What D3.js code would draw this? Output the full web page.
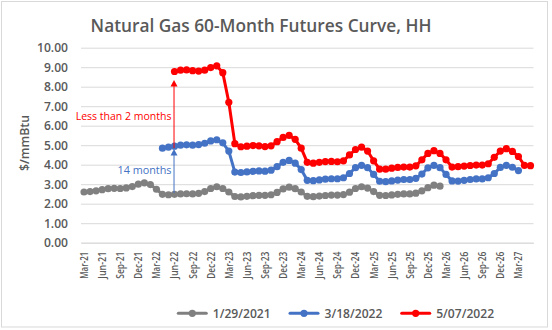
<!DOCTYPE html>
<html><head><meta charset="utf-8">
<script src="https://cdn.jsdelivr.net/npm/d3@7"></script>
<style>body{margin:0;background:#fff}</style>
</head><body>
<svg id="c" width="552" height="330"></svg>
<script>
// ---------- DATA ----------
const categories = [
 "Mar-21","Apr-21","May-21","Jun-21","Jul-21","Aug-21","Sep-21","Oct-21","Nov-21","Dec-21","Jan-22","Feb-22",
 "Mar-22","Apr-22","May-22","Jun-22","Jul-22","Aug-22","Sep-22","Oct-22","Nov-22","Dec-22","Jan-23","Feb-23",
 "Mar-23","Apr-23","May-23","Jun-23","Jul-23","Aug-23","Sep-23","Oct-23","Nov-23","Dec-23","Jan-24","Feb-24",
 "Mar-24","Apr-24","May-24","Jun-24","Jul-24","Aug-24","Sep-24","Oct-24","Nov-24","Dec-24","Jan-25","Feb-25",
 "Mar-25","Apr-25","May-25","Jun-25","Jul-25","Aug-25","Sep-25","Oct-25","Nov-25","Dec-25","Jan-26","Feb-26",
 "Mar-26","Apr-26","May-26","Jun-26","Jul-26","Aug-26","Sep-26","Oct-26","Nov-26","Dec-26","Jan-27","Feb-27",
 "Mar-27","Apr-27","May-27"
];
const tickLabels = ["Mar-21","Jun-21","Sep-21","Dec-21","Mar-22","Jun-22","Sep-22","Dec-22","Mar-23","Jun-23",
 "Sep-23","Dec-23","Mar-24","Jun-24","Sep-24","Dec-24","Mar-25","Jun-25","Sep-25","Dec-25","Mar-26","Jun-26",
 "Sep-26","Dec-26","Mar-27"];
const yTicks = [0,1,2,3,4,5,6,7,8,9,10];

const seriesNames = ["1/29/2021","3/18/2022","5/07/2022"];
const seriesStarts = ["Mar-21","Apr-22","Jun-22"];
const seriesColors = ["#808080","#4472c4","#ff0000"];

const values2021 = [
 2.60,2.62,2.66,2.72,2.77,2.79,2.78,2.81,2.88,3.00,3.07,2.98,
 2.74,2.48,2.46,2.48,2.50,2.51,2.50,2.53,2.62,2.78,2.87,2.78,
 2.60,2.37,2.35,2.38,2.41,2.43,2.43,2.46,2.58,2.76,2.85,2.77,
 2.60,2.38,2.36,2.39,2.42,2.44,2.44,2.47,2.59,2.78,2.87,2.80,
 2.62,2.43,2.42,2.45,2.48,2.50,2.50,2.54,2.66,2.82,2.95,2.90
];
const values2022a = [
 4.85,4.90,4.95,5.00,5.02,5.00,5.03,5.10,5.22,5.28,5.12,4.70,
 3.62,3.60,3.63,3.66,3.68,3.67,3.72,3.90,4.12,4.22,4.08,3.75,
 3.20,3.18,3.22,3.26,3.28,3.28,3.33,3.55,3.85,3.97,3.85,3.50,
 3.15,3.13,3.17,3.21,3.24,3.24,3.30,3.52,3.84,3.97,3.85,3.50,
 3.17,3.16,3.20,3.24,3.27,3.27,3.33,3.55,3.86,3.97,3.87,3.70
];
const values2022b = [
 8.78,8.85,8.86,8.82,8.80,8.85,8.98,9.07,8.72,7.20,
 5.08,4.92,4.95,4.98,4.97,4.93,4.97,5.18,5.40,5.50,5.30,4.85,
 4.12,4.08,4.12,4.16,4.17,4.15,4.20,4.50,4.78,4.90,4.70,4.20,
 3.77,3.77,3.82,3.86,3.88,3.88,3.94,4.25,4.58,4.72,4.58,4.25,
 3.88,3.90,3.93,3.96,3.98,3.98,4.05,4.38,4.70,4.82,4.68,4.42,
 3.97,3.95
];
const seriesValues = [values2021, values2022a, values2022b];

const titleText = "Natural Gas 60-Month Futures Curve, HH";
const yTitle = "$/mmBtu";
const annRed = {text:"Less than 2 months", at:"Jun-22", from:4.85, to:8.35};
const annBlue = {text:"14 months", at:"Jun-22", from:2.55, to:4.80};

// ---------- DRAW ----------
const svg = d3.select("#c");
const FONT = "'Open Sans', Lato, sans-serif";
const txt = "#595959";

function fitSize(str, target, weight){
  const t = svg.append("text").attr("font-family",FONT).attr("font-size",100)
    .attr("font-weight",weight||400).text(str);
  const w = t.node().getComputedTextLength(); t.remove();
  return 100*target/w;
}

svg.append("rect").attr("x",0).attr("y",0).attr("width",552).attr("height",330).attr("fill","#fff");
svg.append("rect").attr("x",1.5).attr("y",1.5).attr("width",546).attr("height",325.5)
  .attr("fill","none").attr("stroke","#d9d9d9");

const L=81, R=533.5, T=47.7, B=242.7;
const x = d3.scaleBand().domain(categories).range([L,R]).padding(0);
const y = d3.scaleLinear().domain([0,10]).range([B,T]);
const cx = c => x(c)+x.bandwidth()/2;

// title
svg.append("text").attr("x",261).attr("y",32).attr("text-anchor","middle")
  .attr("font-family",FONT).attr("font-weight",600).attr("font-size",fitSize(titleText,341,600))
  .attr("fill",txt).text(titleText);

// gridlines + y axis
const yAxis = d3.axisLeft(y).tickValues(yTicks).tickFormat(d3.format(".2f")).tickSize(-(R-L)).tickPadding(13);
const gy = svg.append("g").attr("transform",`translate(${L},0)`).call(yAxis);
gy.select(".domain").remove();
gy.selectAll(".tick line").attr("stroke","#d9d9d9").attr("stroke-width",1);
const ySize = fitSize("10.00",31,600);
gy.selectAll(".tick text").attr("font-family",FONT).attr("font-weight",600).attr("font-size",ySize).attr("fill",txt);

// x axis
const xAxis = d3.axisBottom(x).tickValues(tickLabels).tickSize(0).tickPadding(0);
const gx = svg.append("g").attr("transform",`translate(0,${B})`).call(xAxis);
gx.select(".domain").attr("stroke","#d9d9d9");
gx.selectAll(".tick text").attr("font-family",FONT).attr("font-weight",600).attr("font-size",11).attr("fill",txt)
  .attr("text-anchor","end").attr("transform","rotate(-90)").attr("x",-9).attr("y",0).attr("dy","0.36em")
  .attr("textLength",27).attr("lengthAdjust","spacingAndGlyphs");

// y title
svg.append("text").attr("transform","translate(25,143) rotate(-90)").attr("text-anchor","middle")
  .attr("dy","0.35em").attr("font-family",FONT).attr("font-weight",600).attr("font-size",fitSize(yTitle,56,600))
  .attr("fill",txt).text(yTitle);

// series
const line = d3.line().x(d=>cx(d.c)).y(d=>y(d.v));
seriesValues.forEach((vals,si)=>{
  const s0 = categories.indexOf(seriesStarts[si]);
  const pts = vals.map((v,i)=>({c:categories[s0+i], v}));
  const g = svg.append("g");
  g.append("path").datum(pts).attr("d",line).attr("fill","none").attr("stroke",seriesColors[si])
    .attr("stroke-width",3).attr("stroke-linejoin","round").attr("stroke-linecap","round");
  g.selectAll("circle").data(pts).join("circle").attr("cx",d=>cx(d.c)).attr("cy",d=>y(d.v))
    .attr("r",3.6).attr("fill",seriesColors[si]);
});

// annotations
function arrow(a, color){
  const ax = cx(a.at)-0.5;
  const y1 = y(a.from), y2 = y(a.to);
  svg.append("line").attr("x1",ax).attr("x2",ax).attr("y1",y1).attr("y2",y2+5).attr("stroke",color).attr("stroke-width",1);
  svg.append("path").attr("d",`M${ax},${y2} L${ax-3.5},${y2+6.5} L${ax+3.5},${y2+6.5} Z`).attr("fill",color);
}
arrow(annRed,"#ff0000");
arrow(annBlue,"#4472c4");
svg.append("text").attr("x",171.5).attr("y",120).attr("text-anchor","end").attr("font-family",FONT)
  .attr("font-size",fitSize(annRed.text,96)).attr("fill","#ff0000").text(annRed.text);
svg.append("text").attr("x",171.5).attr("y",174).attr("text-anchor","end").attr("font-family",FONT)
  .attr("font-size",fitSize(annBlue.text,54)).attr("fill","#4472c4").text(annBlue.text);

// legend
const legX = [178.3, 290, 401.7];
const legY = 313.3;
const legSize = fitSize("1/29/2021",58,600);
seriesNames.forEach((n,i)=>{
  const g = svg.append("g");
  g.append("line").attr("x1",legX[i]).attr("x2",legX[i]+28).attr("y1",legY).attr("y2",legY)
    .attr("stroke",seriesColors[i]).attr("stroke-width",3).attr("stroke-linecap","round");
  g.append("circle").attr("cx",legX[i]+14).attr("cy",legY).attr("r",3.6).attr("fill",seriesColors[i]);
  g.append("text").attr("x",legX[i]+34.5).attr("y",legY).attr("dy","0.35em").attr("font-family",FONT)
    .attr("font-weight",600).attr("font-size",legSize).attr("fill",txt).text(n);
});
</script>
</body></html>
